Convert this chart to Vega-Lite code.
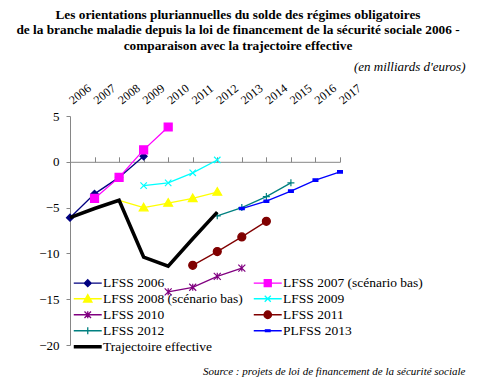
{
  "$schema": "https://vega.github.io/schema/vega-lite/v6.json",
  "autosize": "none",
  "width": 270,
  "height": 229,
  "padding": {"left": 70, "top": 116, "right": 139, "bottom": 47},
  "background": "white",
  "config": {"view": {"stroke": null}},
  "title": {
    "text": ["Les orientations pluriannuelles du solde des régimes obligatoires", "de la branche maladie depuis la loi de financement de la sécurité sociale 2006 -", "comparaison avec la trajectoire effective"],
    "frame": "group", "anchor": "middle", "dx": 33, "offset": 8,
    "font": "Liberation Serif, serif", "fontSize": 13.3, "fontWeight": "bold", "lineHeight": 15.5, "color": "black"
  },
  "data": {"values": [
    {"series": "LFSS 2006", "year": 2006, "value": -6.1},
    {"series": "LFSS 2006", "year": 2007, "value": -3.5},
    {"series": "LFSS 2006", "year": 2008, "value": -1.7},
    {"series": "LFSS 2006", "year": 2009, "value": 0.6},
    {"series": "LFSS 2007 (scénario bas)", "year": 2007, "value": -4.0},
    {"series": "LFSS 2007 (scénario bas)", "year": 2008, "value": -1.7},
    {"series": "LFSS 2007 (scénario bas)", "year": 2009, "value": 1.3},
    {"series": "LFSS 2007 (scénario bas)", "year": 2010, "value": 3.8},
    {"series": "LFSS 2008 (scénario bas)", "year": 2008, "value": -4.2},
    {"series": "LFSS 2008 (scénario bas)", "year": 2009, "value": -5.0},
    {"series": "LFSS 2008 (scénario bas)", "year": 2010, "value": -4.5},
    {"series": "LFSS 2008 (scénario bas)", "year": 2011, "value": -4.0},
    {"series": "LFSS 2008 (scénario bas)", "year": 2012, "value": -3.3},
    {"series": "LFSS 2009", "year": 2009, "value": -2.6},
    {"series": "LFSS 2009", "year": 2010, "value": -2.3},
    {"series": "LFSS 2009", "year": 2011, "value": -1.2},
    {"series": "LFSS 2009", "year": 2012, "value": 0.2},
    {"series": "LFSS 2010", "year": 2010, "value": -14.2},
    {"series": "LFSS 2010", "year": 2011, "value": -13.7},
    {"series": "LFSS 2010", "year": 2012, "value": -12.5},
    {"series": "LFSS 2010", "year": 2013, "value": -11.6},
    {"series": "LFSS 2011", "year": 2011, "value": -11.3},
    {"series": "LFSS 2011", "year": 2012, "value": -9.8},
    {"series": "LFSS 2011", "year": 2013, "value": -8.2},
    {"series": "LFSS 2011", "year": 2014, "value": -6.5},
    {"series": "LFSS 2012", "year": 2012, "value": -5.9},
    {"series": "LFSS 2012", "year": 2013, "value": -5.0},
    {"series": "LFSS 2012", "year": 2014, "value": -3.8},
    {"series": "LFSS 2012", "year": 2015, "value": -2.3},
    {"series": "PLFSS 2013", "year": 2013, "value": -5.1},
    {"series": "PLFSS 2013", "year": 2014, "value": -4.3},
    {"series": "PLFSS 2013", "year": 2015, "value": -3.2},
    {"series": "PLFSS 2013", "year": 2016, "value": -2.0},
    {"series": "PLFSS 2013", "year": 2017, "value": -1.1},
    {"series": "Trajectoire effective", "year": 2006, "value": -6.1},
    {"series": "Trajectoire effective", "year": 2007, "value": -5.1},
    {"series": "Trajectoire effective", "year": 2008, "value": -4.2},
    {"series": "Trajectoire effective", "year": 2009, "value": -10.4},
    {"series": "Trajectoire effective", "year": 2010, "value": -11.4},
    {"series": "Trajectoire effective", "year": 2011, "value": -8.4},
    {"series": "Trajectoire effective", "year": 2012, "value": -5.5}
  ]},
  "resolve": {"axis": {"x": "independent"}},
  "encoding": {
    "y": {
      "field": "value", "type": "quantitative",
      "scale": {"domain": [-20, 5], "nice": false, "zero": false},
      "axis": {
        "values": [-20, -15, -10, -5, 0, 5], "grid": false,
        "domainColor": "#868686", "tickColor": "#868686", "tickSize": 4,
        "labelFont": "Liberation Serif, serif", "labelFontSize": 13, "labelColor": "black", "labelPadding": 7,
        "title": "Source : projets de loi de financement de la sécurité sociale",
        "titleAngle": 0, "titleX": 395, "titleY": 258, "titleAlign": "right", "titleBaseline": "alphabetic",
        "titleFont": "Liberation Serif, serif", "titleFontStyle": "italic", "titleFontWeight": "normal", "titleFontSize": 11, "titleColor": "black"
      }
    }
  },
  "layer": [
    {
      "transform": [{"filter": "datum.series != 'Trajectoire effective'"}],
      "mark": {"type": "line", "strokeWidth": 1.3},
      "encoding": {
        "x": {
          "field": "year", "type": "quantitative",
          "scale": {"domain": [2006, 2017], "nice": false, "zero": false},
          "axis": {
            "orient": "top", "values": [2006, 2007, 2008, 2009, 2010, 2011, 2012, 2013, 2014, 2015, 2016, 2017],
            "format": "d", "labelAngle": -38, "labelOverlap": false, "labelAlign": "left", "labelBaseline": "middle",
            "domain": false, "ticks": false, "grid": false, "labelPadding": 15,
            "labelFont": "Liberation Serif, serif", "labelFontSize": 12, "labelColor": "black",
            "encode": {"labels": {"update": {"angle": {"value": -38}}}},
            "title": "(en milliards d'euros)", "titleX": 395, "titleY": -46, "titleAlign": "right", "titleBaseline": "alphabetic",
            "titleFont": "Liberation Serif, serif", "titleFontStyle": "italic", "titleFontWeight": "normal", "titleFontSize": 13, "titleColor": "black"
          }
        },
        "color": {
          "field": "series", "type": "nominal",
          "scale": {
            "domain": ["LFSS 2006", "LFSS 2007 (scénario bas)", "LFSS 2008 (scénario bas)", "LFSS 2009", "LFSS 2010", "LFSS 2011", "LFSS 2012", "PLFSS 2013", "Trajectoire effective"],
            "range": ["#000080", "#FF00FF", "#FFFF00", "#00FFFF", "#800080", "#800000", "#008080", "#0000FF", "#000000"]
          },
          "legend": {
            "title": null, "orient": "none", "legendX": 11, "legendY": 160, "direction": "horizontal", "columns": 2, "columnPadding": 8,
            "rowPadding": 1, "padding": 0, "symbolSize": 87, "labelOffset": 8.5,
            "labelFont": "Liberation Serif, serif", "labelFontSize": 13.5, "labelColor": "black", "labelLimit": 0,
            "encode": {"symbols": {"update": {
              "shape": {"signal": "['M-3,0H3M0,-0.75L0.75,0L0,0.75L-0.75,0Z','M-3,0H3M-0.75,-0.75H0.75V0.75H-0.75Z','M-3,0H3M0,-0.9L0.9,0.7L-0.9,0.7Z','M-3,0H3M-0.65,-0.65L0.65,0.65M-0.65,0.65L0.65,-0.65','M-3,0H3M-0.7,-0.7L0.7,0.7M-0.7,0.7L0.7,-0.7M0,-0.75V0.75','M-3,0H3M-0.8,0A0.8,0.8 0 1,1 0.8,0A0.8,0.8 0 1,1 -0.8,0Z','M-3,0H3M0,-0.75V0.75','M-3,0H3M-0.5,-0.2H0.5V0.2H-0.5Z','M-3,0H3'][indexof(['LFSS 2006','LFSS 2007 (scénario bas)','LFSS 2008 (scénario bas)','LFSS 2009','LFSS 2010','LFSS 2011','LFSS 2012','PLFSS 2013','Trajectoire effective'], datum.value)]"},
              "fill": {"signal": "scale('color', datum.value)"},
              "stroke": {"signal": "scale('color', datum.value)"},
              "strokeWidth": {"signal": "datum.value == 'Trajectoire effective' ? 3.5 : 1.3"},
              "opacity": {"value": 1},
              "size": {"value": 87}
            }}}
          }
        }
      }
    },
    {
      "transform": [
        {"filter": "datum.series != 'Trajectoire effective'"},
        {"filter": "!(datum.series == 'LFSS 2008 (scénario bas)' && datum.year == 2008)"}
      ],
      "mark": {"type": "point", "size": 64, "strokeWidth": 1.2, "opacity": 1},
      "encoding": {
        "x": {
          "field": "year", "type": "quantitative",
          "axis": {
            "orient": "bottom", "offset": -183.2, "values": [2006, 2007, 2008, 2009, 2010, 2011, 2012, 2013, 2014, 2015, 2016, 2017],
            "labels": false, "domain": true, "ticks": true, "tickSize": -5, "grid": false,
            "domainColor": "#868686", "tickColor": "#868686", "title": null
          }
        },
        "shape": {
          "field": "series", "type": "nominal", "legend": null,
          "scale": {
            "domain": ["LFSS 2006", "LFSS 2007 (scénario bas)", "LFSS 2008 (scénario bas)", "LFSS 2009", "LFSS 2010", "LFSS 2011", "LFSS 2012", "PLFSS 2013"],
            "range": ["M0,-0.875L0.875,0L0,0.875L-0.875,0Z", "M-1,-1H1V1H-1Z", "M0,-1.1L1.1,0.8L-1.1,0.8Z", "M-0.8,-0.8L0.8,0.8M-0.8,0.8L0.8,-0.8", "M-0.875,-0.875L0.875,0.875M-0.875,0.875L0.875,-0.875M0,-0.875V0.875", "M-1,0A1,1 0 1,1 1,0A1,1 0 1,1 -1,0Z", "M-0.875,0H0.875M0,-0.875V0.875", "M-0.6,-0.3H0.6V0.3H-0.6Z"]
          }
        },
        "fill": {"field": "series", "type": "nominal", "legend": null, "scale": {
          "domain": ["LFSS 2006", "LFSS 2007 (scénario bas)", "LFSS 2008 (scénario bas)", "LFSS 2009", "LFSS 2010", "LFSS 2011", "LFSS 2012", "PLFSS 2013"],
          "range": ["#000080", "#FF00FF", "#FFFF00", "#00FFFF", "#800080", "#800000", "#008080", "#0000FF"]}},
        "stroke": {"field": "series", "type": "nominal", "legend": null, "scale": {
          "domain": ["LFSS 2006", "LFSS 2007 (scénario bas)", "LFSS 2008 (scénario bas)", "LFSS 2009", "LFSS 2010", "LFSS 2011", "LFSS 2012", "PLFSS 2013"],
          "range": ["#000080", "#FF00FF", "#FFFF00", "#00FFFF", "#800080", "#800000", "#008080", "#0000FF"]}}
      }
    },
    {
      "transform": [{"filter": "datum.series == 'Trajectoire effective'"}],
      "mark": {"type": "line", "strokeWidth": 3.5, "strokeJoin": "miter"},
      "encoding": {
        "x": {"field": "year", "type": "quantitative", "axis": null},
        "color": {"field": "series", "type": "nominal"}
      }
    }
  ]
}
